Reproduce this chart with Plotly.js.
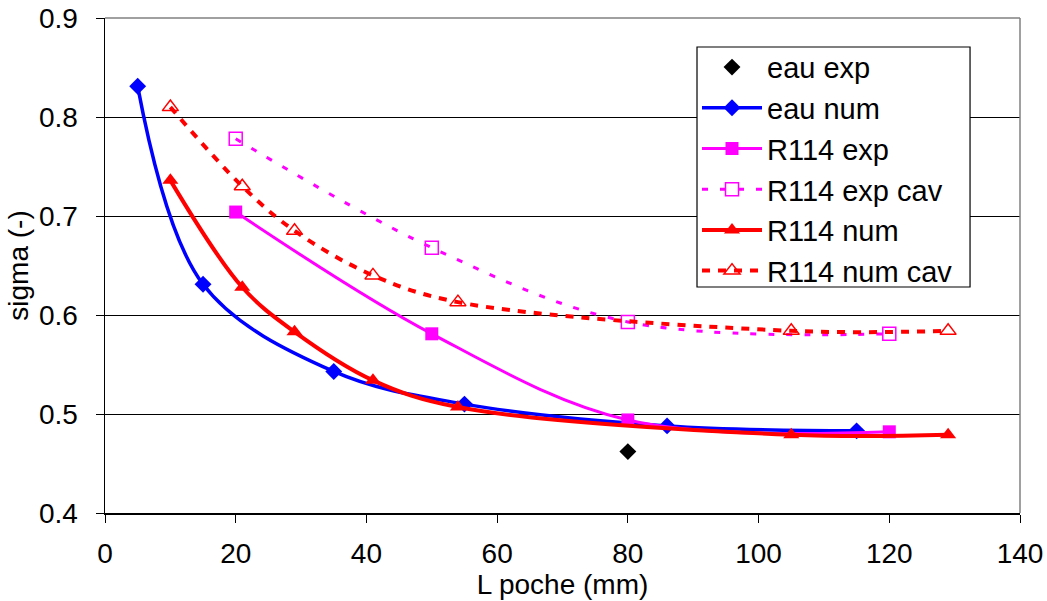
<!DOCTYPE html>
<html>
<head>
<meta charset="utf-8">
<script src="https://cdn.plot.ly/plotly-3.0.1.min.js"></script>
<style>html,body{margin:0;padding:0;background:#fff}#chart{width:1047px;height:601px}</style>
</head>
<body>
<div id="chart"></div>
<script>
const eauExpX = [80];
const eauExpY = [0.462];
const eauNumX = [5, 15, 35, 55, 86, 115];
const eauNumY = [0.831, 0.631, 0.543, 0.510, 0.488, 0.483];
const r114ExpX = [20, 50, 80, 120];
const r114ExpY = [0.704, 0.581, 0.494, 0.482];
const r114ExpCavX = [20, 50, 80, 120];
const r114ExpCavY = [0.778, 0.668, 0.593, 0.581];
const r114NumX = [10, 21, 29, 41, 54, 105, 129];
const r114NumY = [0.736, 0.628, 0.583, 0.534, 0.507, 0.479, 0.479];
const r114NumCavX = [10, 21, 29, 41, 54, 105, 129];
const r114NumCavY = [0.810, 0.730, 0.685, 0.640, 0.613, 0.584, 0.584];

const traces = [
  {name: 'eau exp', legendgroup: 'a', x: eauExpX, y: eauExpY, mode: 'markers', type: 'scatter',
   marker: {symbol: 'diamond', color: '#000000', size: 13}},
  {name: 'eau num', legendgroup: 'b', x: eauNumX, y: eauNumY, mode: 'lines+markers', type: 'scatter',
   line: {color: '#0000FF', width: 3.5, shape: 'spline', smoothing: 1},
   marker: {symbol: 'diamond', color: '#0000FF', size: 13}},
  {name: 'R114 exp', legendgroup: 'c', x: r114ExpX, y: r114ExpY, mode: 'lines+markers', type: 'scatter',
   line: {color: '#FF00FF', width: 3, shape: 'spline', smoothing: 1},
   marker: {symbol: 'square', color: '#FF00FF', size: 13}},
  {name: 'R114 exp cav', legendgroup: 'd', x: r114ExpCavX, y: r114ExpCavY, mode: 'lines+markers', type: 'scatter',
   line: {color: '#FF00FF', width: 3, shape: 'spline', smoothing: 1, dash: '6px,12px'},
   marker: {symbol: 'square-open', color: '#FF00FF', size: 13, line: {width: 1.5}}},
  {name: 'R114 num', legendgroup: 'e', x: r114NumX, y: r114NumY, mode: 'lines+markers', type: 'scatter',
   line: {color: '#FF0000', width: 4, shape: 'spline', smoothing: 1},
   marker: {symbol: 'triangle-up', color: '#FF0000', size: 14}},
  {name: 'R114 num cav', legendgroup: 'f', x: r114NumCavX, y: r114NumCavY, mode: 'lines+markers', type: 'scatter',
   line: {color: '#FF0000', width: 4, shape: 'spline', smoothing: 1, dash: '8px,8px'},
   marker: {symbol: 'triangle-up-open', color: '#FF0000', size: 14, line: {width: 1.5}}}
];

const layout = {
  width: 1047, height: 601,
  margin: {l: 105, r: 27, t: 18, b: 88},
  paper_bgcolor: '#ffffff', plot_bgcolor: '#ffffff',
  font: {family: 'Liberation Sans, Arial, sans-serif', size: 28, color: '#000000'},
  showlegend: true,
  legend: {x: 0.647, y: 0.952, xanchor: 'left', yanchor: 'top',
    bgcolor: 'rgba(0,0,0,0)', borderwidth: 0,
    font: {size: 29}, tracegroupgap: 0, itemwidth: 60},
  xaxis: {
    range: [0, 140], dtick: 20, tick0: 0,
    ticks: 'outside', ticklen: 8, tickcolor: '#000', tickwidth: 1,
    ticklabelstandoff: 7,
    showline: true, linecolor: '#000', linewidth: 1.5, mirror: false,
    showgrid: false, zeroline: false,
    title: {text: 'L poche (mm)', font: {size: 28}, standoff: 4},
    tickfont: {size: 28}
  },
  yaxis: {
    range: [0.4, 0.9], dtick: 0.1, tick0: 0.4,
    ticks: 'outside', ticklen: 8, tickcolor: '#000', tickwidth: 1,
    ticklabelstandoff: 12,
    tickformat: '.1f',
    showline: true, linecolor: '#000', linewidth: 1.5,
    showgrid: true, gridcolor: '#000000', gridwidth: 1, zeroline: false,
    title: {text: 'sigma (-)', font: {size: 28}, standoff: 2},
    tickfont: {size: 28}
  },
  shapes: [
    {type: 'line', xref: 'paper', yref: 'paper', x0: 1, x1: 1, y0: 0, y1: 1,
     line: {color: '#808080', width: 1.5}},
    {type: 'line', xref: 'paper', yref: 'paper', x0: 0, x1: 1, y0: 1, y1: 1,
     line: {color: '#808080', width: 1.5}},
    {type: 'rect', xref: 'paper', yref: 'paper', x0: 0.647, x1: 0.9454, y0: 0.4566, y1: 0.9414,
     fillcolor: '#ffffff', line: {color: '#000000', width: 1.2}, layer: 'above'}
  ]
};

Plotly.newPlot('chart', traces, layout, {displayModeBar: false, staticPlot: true});
</script>
</body>
</html>
